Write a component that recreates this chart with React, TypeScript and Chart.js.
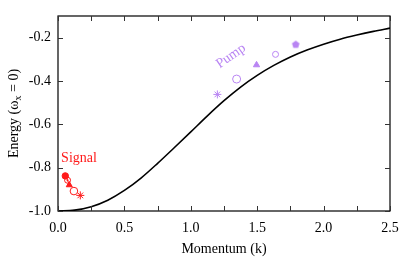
import React, { useEffect, useRef } from "react";
import { Chart, registerables } from "chart.js";

Chart.register(...registerables);

// Dispersion curve
const curveK = [0, 0.125, 0.25, 0.375, 0.5, 0.625, 0.75, 0.875, 1.0, 1.125, 1.25, 1.375, 1.5, 1.625, 1.75, 1.875, 2.0, 2.125, 2.25, 2.375, 2.5];
const curveE = [-1.0, -0.996, -0.98, -0.95, -0.905, -0.848, -0.78, -0.708, -0.635, -0.561, -0.491, -0.428, -0.374, -0.328, -0.289, -0.257, -0.23, -0.207, -0.188, -0.171, -0.156];

// Signal markers
const signalK = [0.055, 0.072, 0.085, 0.12, 0.168];
const signalE = [-0.838, -0.858, -0.88, -0.908, -0.928];

// Pump markers
const pumpK = [1.2, 1.345, 1.495, 1.638, 1.79];
const pumpE = [-0.462, -0.391, -0.326, -0.277, -0.232];

const xTicks = [0, 0.5, 1.0, 1.5, 2.0, 2.5];
const xMinorTicks = [0.25, 0.75, 1.25, 1.75, 2.25];
const yTicks = [-1.0, -0.8, -0.6, -0.4, -0.2];

const RED = "#ff1a1a";
const PURPLE = "#b985f3";
const FONT = "'Liberation Serif', 'DejaVu Serif', serif";

function makePentagon(r: number, color: string) {
  const c = document.createElement("canvas");
  const s = Math.ceil(r * 2 + 2);
  c.width = s;
  c.height = s;
  const ctx = c.getContext("2d")!;
  ctx.fillStyle = color;
  ctx.beginPath();
  for (let i = 0; i < 5; i++) {
    const a = -Math.PI / 2 + (i * 2 * Math.PI) / 5;
    const x = s / 2 + r * Math.cos(a);
    const y = s / 2 + r * Math.sin(a);
    if (i === 0) ctx.moveTo(x, y);
    else ctx.lineTo(x, y);
  }
  ctx.closePath();
  ctx.fill();
  return c;
}

const decorPlugin = {
  id: "decor",
  afterDatasetsDraw(chart: any) {
    const ctx = chart.ctx;
    const { left, right, top, bottom } = chart.chartArea;
    const xs = chart.scales.x;
    const ys = chart.scales.y;
    ctx.save();
    ctx.strokeStyle = "#000";
    ctx.lineWidth = 1.2;
    ctx.strokeRect(left, top, right - left, bottom - top);
    ctx.lineWidth = 1;
    ctx.strokeStyle = "#333";
    const tick = (x1: number, y1: number, x2: number, y2: number) => {
      ctx.beginPath();
      ctx.moveTo(x1, y1);
      ctx.lineTo(x2, y2);
      ctx.stroke();
    };
    xTicks.concat(xMinorTicks).forEach((v) => {
      const x = Math.round(xs.getPixelForValue(v)) + 0.5;
      tick(x, bottom, x, bottom - 5);
      tick(x, top, x, top + 5);
    });
    yTicks.forEach((v) => {
      const y = Math.round(ys.getPixelForValue(v)) + 0.5;
      tick(left, y, left + 5, y);
      tick(right, y, right - 5, y);
    });

    // Axis titles
    ctx.fillStyle = "#000";
    ctx.font = `14px ${FONT}`;
    ctx.textAlign = "center";
    ctx.textBaseline = "middle";
    ctx.fillText("Momentum (k)", (left + right) / 2, 249);

    // Y title with subscript
    const p1 = "Energy (\u03c9";
    const sub = "x";
    const p2 = " = 0)";
    ctx.font = `14px ${FONT}`;
    const w1 = ctx.measureText(p1).width;
    const w3 = ctx.measureText(p2).width;
    ctx.font = `10px ${FONT}`;
    const w2 = ctx.measureText(sub).width;
    const total = w1 + w2 + w3;
    ctx.translate(13, (top + bottom) / 2);
    ctx.rotate(-Math.PI / 2);
    ctx.textAlign = "left";
    ctx.textBaseline = "alphabetic";
    let cx = -total / 2;
    ctx.font = `14px ${FONT}`;
    ctx.fillText(p1, cx, 5);
    cx += w1;
    ctx.font = `10px ${FONT}`;
    ctx.fillText(sub, cx, 8);
    cx += w2;
    ctx.font = `14px ${FONT}`;
    ctx.fillText(p2, cx, 5);
    ctx.restore();

    // Annotations
    ctx.save();
    ctx.fillStyle = RED;
    ctx.font = `14px ${FONT}`;
    ctx.textAlign = "center";
    ctx.textBaseline = "middle";
    ctx.fillText("Signal", 79, 158);
    ctx.translate(231, 56);
    ctx.rotate(-35 * Math.PI / 180);
    ctx.fillStyle = PURPLE;
    ctx.fillText("Pump", 0, 0);
    ctx.restore();
  },
};

export default function App() {
  const ref = useRef<HTMLCanvasElement>(null);
  useEffect(() => {
    const pentagon = makePentagon(4, PURPLE);
    const chart = new Chart(ref.current!, {
      type: "scatter",
      data: {
        datasets: [
          {
            data: curveK.map((k, i) => ({ x: k, y: curveE[i] })),
            showLine: true,
            borderColor: "#000",
            borderWidth: 1.6,
            pointRadius: 0,
            cubicInterpolationMode: "monotone",
          } as any,
          {
            data: signalK.slice(0, 3).map((k, i) => ({ x: k, y: signalE[i] })),
            showLine: true,
            borderColor: RED,
            borderWidth: 1,
            pointRadius: 0,
          },
          {
            data: signalK.map((k, i) => ({ x: k, y: signalE[i] })),
            pointStyle: ["circle", "circle", "triangle", "circle", "star"],
            pointRadius: [3.2, 3, 3.5, 3.8, 4],
            backgroundColor: [RED, "rgba(0,0,0,0)", RED, "rgba(0,0,0,0)", RED],
            borderColor: RED,
            borderWidth: 1,
          } as any,
          {
            data: [{ x: signalK[1], y: signalE[1] }],
            pointStyle: "circle",
            pointRadius: 1,
            backgroundColor: RED,
            borderColor: RED,
            borderWidth: 0,
          },
          {
            data: pumpK.map((k, i) => ({ x: k, y: pumpE[i] })),
            pointStyle: ["star", "circle", "triangle", "circle", pentagon],
            pointRadius: [4, 4, 3.6, 3, 4],
            backgroundColor: [PURPLE, "rgba(0,0,0,0)", PURPLE, "rgba(0,0,0,0)", PURPLE],
            borderColor: PURPLE,
            borderWidth: 1,
          } as any,
        ],
      },
      options: {
        animation: false,
        responsive: false,
        devicePixelRatio: 1,
        layout: { padding: { top: 16, right: 25, left: 0, bottom: 0 } },
        plugins: { legend: { display: false }, tooltip: { enabled: false } },
        scales: {
          x: {
            type: "linear",
            min: 0,
            max: 2.5,
            afterBuildTicks: (s: any) => {
              s.ticks = xTicks.map((v) => ({ value: v }));
            },
            afterFit: (s: any) => {
              s.height = 48;
            },
            grid: { display: false, drawTicks: false },
            border: { display: false },
            ticks: {
              padding: 9,
              color: "#000",
              font: { family: FONT, size: 14 },
              maxRotation: 0,
              callback: (v: any) => Number(v).toFixed(1),
            },
          },
          y: {
            type: "linear",
            min: -1,
            max: -0.1,
            afterBuildTicks: (s: any) => {
              s.ticks = yTicks.map((v) => ({ value: v }));
            },
            afterFit: (s: any) => {
              s.width = 58;
            },
            grid: { display: false, drawTicks: false },
            border: { display: false },
            ticks: {
              padding: 7,
              color: "#000",
              font: { family: FONT, size: 14 },
              callback: (v: any) => Number(v).toFixed(1),
            },
          },
        },
      },
      plugins: [decorPlugin],
    } as any);
    return () => chart.destroy();
  }, []);
  return (
    <div style={{ position: "absolute", left: 0, top: 0, width: 415, height: 259, background: "#fff" }}>
      <canvas ref={ref} width={415} height={259} style={{ width: 415, height: 259 }} />
    </div>
  );
}
